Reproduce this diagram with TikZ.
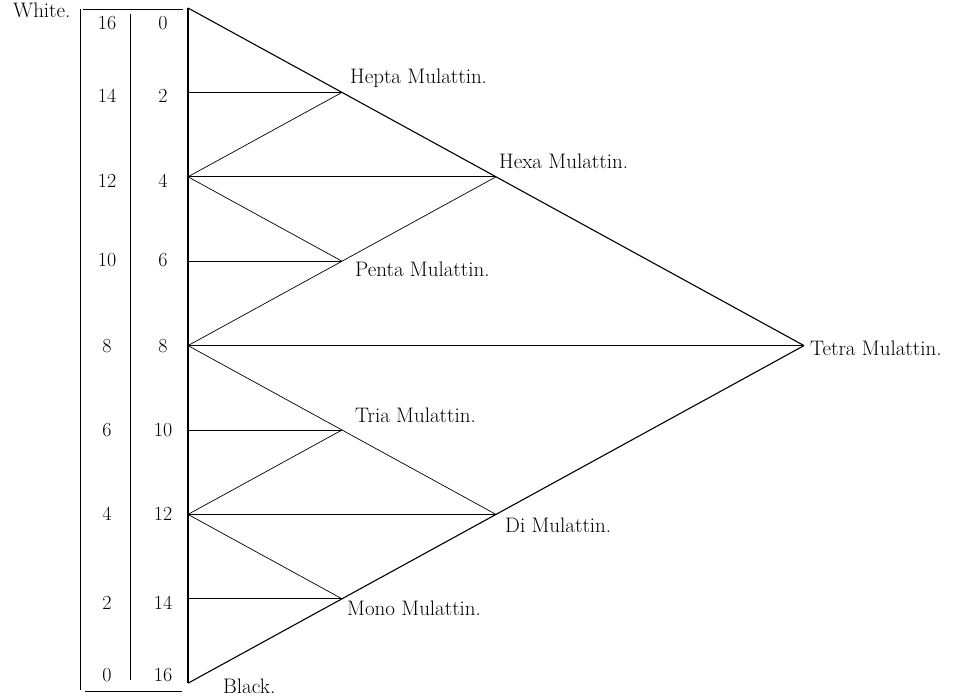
\documentclass[tikz,border=0pt]{standalone}
\begin{document}
\begin{tikzpicture}[x=1pt,y=-1pt]
\tikzset{
  lbl/.style={font=\fontsize{21}{25}\selectfont, anchor=base west, inner sep=0pt},
  num/.style={font=\fontsize{20}{24}\selectfont, inner sep=0pt},
  edge/.style={line width=0.7pt},
  outer/.style={line width=1.1pt},
  frame/.style={line width=0.8pt},
}
\useasboundingbox (0,0) rectangle (969,699);
% points on the vertical
\coordinate (A) at (188,8);
\coordinate (r2) at (188,92.4);
\coordinate (r4) at (188,176.8);
\coordinate (r6) at (188,261.2);
\coordinate (r8) at (188,345.6);
\coordinate (r10) at (188,430);
\coordinate (r12) at (188,514.4);
\coordinate (r14) at (188,598.8);
\coordinate (B) at (188,683.2);
% mixing points
\coordinate (hepta) at (342,92.4);
\coordinate (hexa) at (496,176.8);
\coordinate (penta) at (342,261.2);
\coordinate (tetra) at (804,345.6);
\coordinate (tria) at (342,430);
\coordinate (di) at (496,514.4);
\coordinate (mono) at (342,598.8);
% scale frame
\coordinate (fl1) at (80,9);
\coordinate (fl2) at (80,690);
\coordinate (ft1) at (83,9);
\coordinate (ft2) at (183,9);
\coordinate (fm1) at (130,14);
\coordinate (fm2) at (130,680);
\coordinate (fb1) at (85,691);
\coordinate (fb2) at (182,691);
\draw[frame] (fl1) -- (fl2);
\draw[frame] (ft1) -- (ft2);
\draw[frame] (fm1) -- (fm2);
\draw[frame] (fb1) -- (fb2);
% main figure
\draw[outer] (A) -- (B);
\draw[outer] (A) -- (tetra);
\draw[outer] (B) -- (tetra);
\draw[edge] (r8) -- (tetra);
\draw[edge] (r2) -- (hepta);
\draw[edge] (r4) -- (hepta);
\draw[edge] (r4) -- (hexa);
\draw[edge] (r4) -- (penta);
\draw[edge] (r6) -- (penta);
\draw[edge] (r8) -- (hexa);
\draw[edge] (r10) -- (tria);
\draw[edge] (r12) -- (tria);
\draw[edge] (r12) -- (di);
\draw[edge] (r12) -- (mono);
\draw[edge] (r14) -- (mono);
\draw[edge] (r8) -- (di);
% scale numbers
\node[num] (w16) at (107,23) {16};
\node[num] (w14) at (107,96) {14};
\node[num] (w12) at (107,181) {12};
\node[num] (w10) at (107,260) {10};
\node[num] (w8) at (107,346) {8};
\node[num] (w6) at (107,430) {6};
\node[num] (w4) at (107,514) {4};
\node[num] (w2) at (107,603) {2};
\node[num] (w0) at (107,675) {0};
\node[num] (b0) at (163,23) {0};
\node[num] (b2) at (163,96) {2};
\node[num] (b4) at (163,181) {4};
\node[num] (b6) at (163,260) {6};
\node[num] (b8) at (163,346) {8};
\node[num] (b10) at (163,430) {10};
\node[num] (b12) at (163,514) {12};
\node[num] (b14) at (163,603) {14};
\node[num] (b16) at (163,675) {16};
% labels
\node[lbl] (white) at (13,17) {White.};
\node[lbl] (black) at (223,693) {Black.};
\node[lbl] (lhepta) at (350,83) {Hepta Mulattin.};
\node[lbl] (lhexa) at (499,168) {Hexa Mulattin.};
\node[lbl] (lpenta) at (355,276) {Penta Mulattin.};
\node[lbl] (ltetra) at (810,355) {Tetra Mulattin.};
\node[lbl] (ltria) at (355,422) {Tria Mulattin.};
\node[lbl] (ldi) at (505,532) {Di Mulattin.};
\node[lbl] (lmono) at (347,615) {Mono Mulattin.};
\end{tikzpicture}
\end{document}
